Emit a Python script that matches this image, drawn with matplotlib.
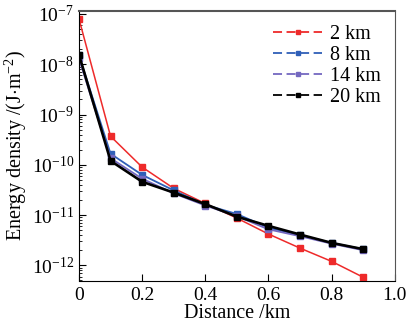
import numpy as np
import matplotlib
matplotlib.use('Agg')
import matplotlib.pyplot as plt
from matplotlib.lines import Line2D
from matplotlib.ticker import LogLocator, NullFormatter

plt.rcParams['font.family'] = ['Liberation Serif', 'DejaVu Serif']
plt.rcParams['mathtext.fontset'] = 'custom'
plt.rcParams['mathtext.rm'] = 'Liberation Serif'
plt.rcParams['mathtext.it'] = 'Liberation Serif:italic'

# data
distance = [0, 0.1, 0.2, 0.3, 0.4, 0.5, 0.6, 0.7, 0.8, 0.9]
e_2km = [8.0e-8, 3.7e-10, 9.0e-11, 3.4e-11, 1.7e-11, 8.7e-12, 4.2e-12, 2.2e-12, 1.2e-12, 5.8e-13]
e_8km = [1.5e-8, 1.66e-10, 6.3e-11, 3.1e-11, 1.6e-11, 1.05e-11, 5.6e-12, 4.0e-12, 2.8e-12, 2.1e-12]
e_14km = [1.3e-8, 1.35e-10, 5.3e-11, 2.7e-11, 1.55e-11, 9.5e-12, 5.2e-12, 3.8e-12, 2.7e-12, 2.0e-12]
e_20km = [1.55e-8, 1.2e-10, 4.6e-11, 2.8e-11, 1.65e-11, 9.3e-12, 6.1e-12, 4.1e-12, 2.8e-12, 2.1e-12]
labels = ['2 km', '8 km', '14 km', '20 km']
colors = ['#ee2a2a', '#2f5fb8', '#7468c0', '#000000']

fontsize = 14
fig = plt.figure(figsize=(4.07, 3.30), dpi=100)
ax = fig.add_axes([0.194, 0.150, 0.776, 0.817])

series = [e_2km, e_8km, e_14km, e_20km]
widths = [1.1, 1.3, 1.3, 1.9]
handles = []
for y, c, lab, lw in zip(series, colors, labels, widths):
    ax.plot(distance, y, color=c, lw=lw, marker='s', ms=4, mec=c, mfc=c)
    handles.append(Line2D([], [], color=c, lw=1.3, linestyle=(0, (5, 2.5)),
                          marker='s', ms=3.5, mfc=c, mec=c))

ax.set_yscale('log')
ax.set_xlim(0, 1.0)
ax.set_ylim(5e-13, 1.15e-7)
ax.set_xticks([0, 0.2, 0.4, 0.6, 0.8, 1.0])
ax.set_xticklabels(['0', '0.2', '0.4', '0.6', '0.8', '1.0'])
ax.yaxis.set_major_locator(LogLocator(base=10, numticks=10))
ax.yaxis.set_minor_locator(LogLocator(base=10, subs=np.arange(2, 10), numticks=10))
ax.yaxis.set_minor_formatter(NullFormatter())
ax.tick_params(which='both', direction='in', labelsize=fontsize)
ax.tick_params(which='major', length=5, width=0.8)
ax.tick_params(which='minor', length=2.5, width=0.6)
ax.tick_params(axis='x', pad=5)
for s in ['top', 'right']:
    ax.spines[s].set_color('#555555')
ax.spines['top'].set_linewidth(1.5)

ax.set_xlabel('Distance /km', fontsize=14.5, labelpad=0)
ax.set_ylabel(r'Energy density /(J$\cdot$m$^{-2}$)', fontsize=14.5, labelpad=2)

ax.legend(handles, labels, loc='upper right', frameon=False, fontsize=14.5,
          handlelength=2.4, handletextpad=0.4, labelspacing=0.1, numpoints=1,
          borderaxespad=0.3)

fig.savefig('out.png', dpi=100)
